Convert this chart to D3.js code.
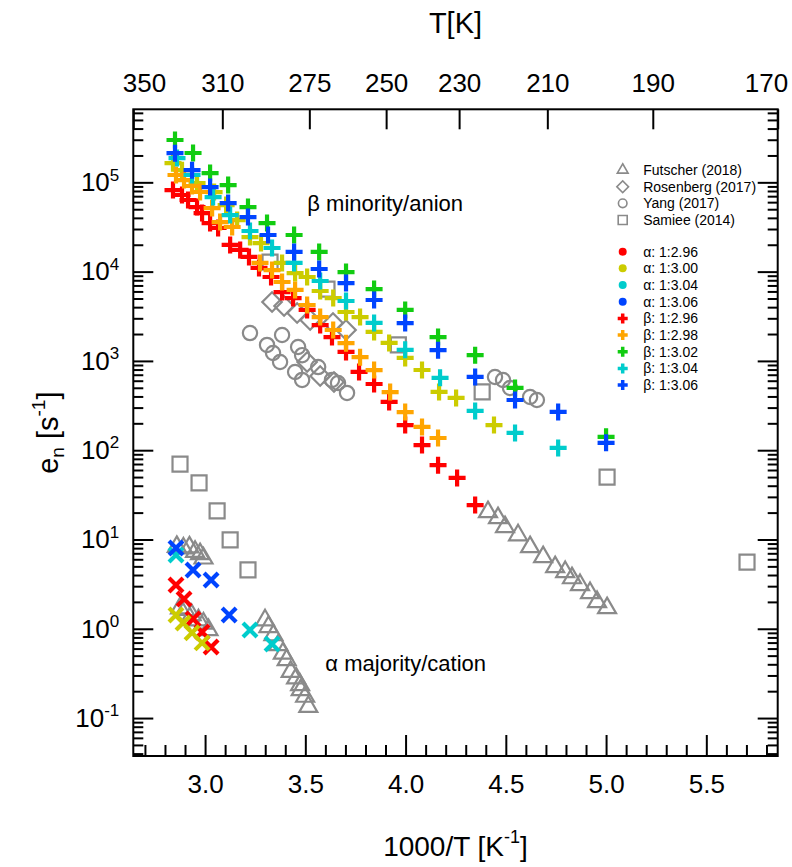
<!DOCTYPE html>
<html>
<head>
<meta charset="utf-8">
<script src="https://cdn.jsdelivr.net/npm/d3@7"></script>
<style>
body { margin: 0; background: #fff; }
svg { font-family: "Liberation Sans", Arial, sans-serif; }
</style>
</head>
<body>
<script>
// beta (minority / anion) traps, [1000/T, e_n]
var betaRed296 = [[2.840, 82000], [2.885, 72100], [2.915, 63400], [2.960, 52900], [2.985, 45300], [3.025, 35000], [3.065, 30800], [3.125, 19900], [3.175, 17500], [3.219, 14600], [3.269, 11000], [3.329, 8700], [3.384, 5900], [3.439, 5060], [3.509, 3720], [3.574, 2520], [3.633, 1850], [3.703, 1260], [3.768, 752], [3.843, 551], [3.918, 347], [3.998, 191], [4.082, 114], [4.162, 68], [4.257, 48.9], [4.347, 24.3]];
var betaOrange298 = [[2.855, 120800], [2.895, 106000], [2.935, 91000], [2.975, 77900], [3.035, 51500], [3.075, 35900], [3.135, 31600], [3.274, 12500], [3.334, 10400], [3.384, 7650], [3.449, 6230], [3.509, 4230], [3.574, 3100], [3.639, 2220], [3.703, 1580], [3.773, 1100], [3.843, 790], [3.923, 448], [3.998, 267], [4.082, 182], [4.162, 137]];
var betaYellow300 = [[2.840, 164000], [2.885, 137000], [2.960, 98000], [3.045, 77800], [3.105, 55700], [3.160, 37800], [3.224, 24400], [3.279, 20900], [3.384, 12500], [3.449, 9640], [3.509, 8700], [3.574, 6070], [3.639, 5060], [3.703, 3530], [3.773, 3100], [3.843, 2110], [3.918, 1590], [3.998, 1080], [4.082, 791], [4.167, 449], [4.252, 385], [4.441, 191]];
var betaGreen302 = [[2.850, 298000], [2.940, 213000], [3.025, 127000], [3.115, 93300], [3.214, 52900], [3.309, 35000], [3.444, 25700], [3.569, 16600], [3.703, 9890], [3.843, 6380], [3.998, 3720], [4.162, 1850], [4.347, 1160], [4.546, 498], [5.000, 141]];
var betaCyan304 = [[2.860, 187000], [2.935, 120800], [3.040, 68400], [3.125, 43000], [3.224, 28500], [3.334, 18400], [3.444, 12500], [3.574, 7850], [3.703, 4690], [3.843, 2660], [3.998, 1330], [4.172, 646], [4.347, 275], [4.546, 156], [4.761, 106]];
var betaBlue306 = [[2.850, 212000], [2.935, 137000], [3.025, 88500], [3.115, 58600], [3.214, 40800], [3.314, 25700], [3.444, 16600], [3.569, 10700], [3.703, 7450], [3.843, 4810], [3.998, 2650], [4.162, 1320], [4.347, 661], [4.546, 365], [4.761, 268], [5.000, 121]];

// alpha (majority / cation) traps
var alphaRed296 = [[2.855, 3.10], [2.895, 2.15], [2.940, 1.29], [2.985, 0.92], [3.030, 0.625]];
var alphaYellow300 = [[2.855, 1.43], [2.890, 1.16], [2.935, 0.90], [2.985, 0.695]];
var alphaCyan304 = [[2.855, 6.71], [3.224, 0.97], [3.334, 0.676]];
var alphaBlue306 = [[2.855, 8.03], [2.940, 4.55], [3.030, 3.52], [3.120, 1.43]];

// literature
var futscher = [[2.859, 8.3], [2.892, 7.96], [2.922, 8.18], [2.950, 7.3], [2.975, 6.88], [2.992, 6.15],
    [2.875, 1.70], [2.900, 1.63], [2.933, 1.43], [2.967, 1.25], [2.992, 1.15], [3.017, 0.97],
    [3.299, 1.25], [3.316, 1.05], [3.341, 0.85], [3.366, 0.66], [3.388, 0.53], [3.407, 0.448], [3.427, 0.331], [3.454, 0.279], [3.474, 0.235], [3.477, 0.206], [3.499, 0.174], [3.515, 0.134],
    [4.411, 20.3], [4.461, 17.4], [4.496, 13.8], [4.561, 11.2], [4.621, 8.24], [4.686, 6.37], [4.746, 4.92], [4.796, 4.33], [4.830, 3.70], [4.870, 3.10], [4.920, 2.52], [4.955, 2.00], [5.005, 1.71]];
var rosenberg = [[3.334, 4570], [3.394, 4120], [3.459, 3440], [3.524, 2870], [3.638, 2660], [3.703, 2220], [3.509, 973], [3.574, 678], [3.643, 581]];
var yang = [[3.224, 2050], [3.384, 1950], [3.309, 1510], [3.464, 1430], [3.339, 1225], [3.484, 1160], [3.374, 973], [3.449, 752], [3.564, 853], [3.484, 612], [3.633, 612], [3.663, 566], [3.708, 438],
    [4.446, 661], [4.486, 611], [4.521, 497], [4.621, 394], [4.655, 365]];
var samiee = [[2.875, 70], [2.970, 43], [3.060, 20.9], [3.125, 9.9], [3.214, 4.56], [3.324, 12800], [3.608, 6380], [3.964, 1510], [4.382, 449], [5.005, 50], [5.703, 5.58]];

var xMajor = [3.0, 3.5, 4.0, 4.5, 5.0, 5.5];
var yMajor = [0.1, 1, 10, 100, 1000, 10000, 100000];
var yExponents = ["-1", "0", "1", "2", "3", "4", "5"];
var topTickLabels = ["350", "310", "275", "250", "230", "210", "190", "170"];
var topTickPos = [2.642, 3.086, 3.520, 3.903, 4.267, 4.707, 5.233, 5.856]; // where the labels sit on the 1000/T axis

var gray = "#8a8a8a";
var colors = {red: "#ff0000", orange: "#ffa500", yellow: "#cccc00", green: "#11cc11", cyan: "#00cccc", blue: "#0044ff"};

var litSeries = [
    {name: "Futscher (2018)", data: futscher, shape: "triangle"},
    {name: "Rosenberg (2017)", data: rosenberg, shape: "diamond"},
    {name: "Yang (2017)", data: yang, shape: "circle"},
    {name: "Samiee (2014)", data: samiee, shape: "square"}
];
var ownSeries = [
    {name: "α: 1:2.96", data: alphaRed296, kind: "alpha", color: colors.red, legend: true},
    {name: "α: 1:3.00", data: alphaYellow300, kind: "alpha", color: colors.yellow, legend: true},
    {name: "α: 1:3.04", data: alphaCyan304, kind: "alpha", color: colors.cyan, legend: true},
    {name: "α: 1:3.06", data: alphaBlue306, kind: "alpha", color: colors.blue, legend: true},
    {name: "β: 1:3.00", data: betaYellow300, kind: "beta", color: colors.yellow, legend: false},
    {name: "β: 1:2.96", data: betaRed296, kind: "beta", color: colors.red, legend: true},
    {name: "β: 1:2.98", data: betaOrange298, kind: "beta", color: colors.orange, legend: true},
    {name: "β: 1:3.02", data: betaGreen302, kind: "beta", color: colors.green, legend: true},
    {name: "β: 1:3.04", data: betaCyan304, kind: "beta", color: colors.cyan, legend: true},
    {name: "β: 1:3.06", data: betaBlue306, kind: "beta", color: colors.blue, legend: true}
];

var margin = {left: 133.3, top: 109.3};
var width = 644.4;
var height = 646.7;

var x = d3.scaleLinear().domain([2.642, 5.856]).range([0, width]);
var y = d3.scaleLog().domain([Math.pow(10, -1.425), Math.pow(10, 5.818)]).range([height, 0]);

var svg = d3.select("body").append("svg").attr("width", 792).attr("height", 867);
var g = svg.append("g").attr("transform", "translate(" + margin.left + "," + margin.top + ")");

function symbolPath(shape, s) {
    if (shape === "triangle") return d3.symbol(d3.symbolTriangle, 140 * s * s)();
    if (shape === "circle") return d3.symbol(d3.symbolCircle, 160 * s * s)();
    if (shape === "square") return d3.symbol(d3.symbolSquare, 225 * s * s)();
    if (shape === "diamond") return d3.symbol(d3.symbolSquare, 190 * s * s)();
}

// literature points, open gray
litSeries.slice().reverse().forEach(function (s) {
    g.append("g").selectAll("path").data(s.data).enter().append("path")
        .attr("d", symbolPath(s.shape, 1))
        .attr("transform", function (d) {
            return "translate(" + x(d[0]) + "," + y(d[1]) + ")" + (s.shape === "diamond" ? " rotate(45)" : "");
        })
        .attr("fill", "none").attr("stroke", gray).attr("stroke-width", 2.2);
});

// own data: x for alpha, + for beta
var plusPath = "M-8.5,0H8.5M0,-8.5V8.5";
var crossPath = "M-7,-7L7,7M-7,7L7,-7";
ownSeries.forEach(function (s) {
    g.append("g").selectAll("path").data(s.data).enter().append("path")
        .attr("d", s.kind === "beta" ? plusPath : crossPath)
        .attr("transform", function (d) { return "translate(" + x(d[0]) + "," + y(d[1]) + ")"; })
        .attr("fill", "none").attr("stroke", s.color).attr("stroke-width", 4.2);
});

// axes
var xMinor = d3.range(27, 59).map(function (d) { return d / 10; }).filter(function (v) { return xMajor.indexOf(v) < 0; });
var yMinor = y.ticks().filter(function (v) {
    var l = Math.log10(v);
    return Math.abs(l - Math.round(l)) > 1e-6;
});

function styleAxis(sel, fontSize) {
    sel.select(".domain").remove();
    sel.selectAll("line").attr("stroke", "#000").attr("stroke-width", 2);
    sel.attr("font-family", null).attr("font-size", fontSize).selectAll("text").attr("fill", "#000");
}

var bottom = g.append("g").attr("transform", "translate(0," + height + ")");
bottom.append("g").call(d3.axisBottom(x).tickValues(xMinor).tickFormat("").tickSizeInner(-11).tickSizeOuter(0)).call(styleAxis, 26);
bottom.append("g").call(d3.axisBottom(x).tickValues(xMajor).tickFormat(d3.format(".1f")).tickSizeInner(-21).tickSizeOuter(0).tickPadding(18.5)).call(styleAxis, 26);

var topAxis = g.append("g").call(d3.axisTop(x).tickValues(topTickPos).tickFormat(function (d, i) { return topTickLabels[i]; })
    .tickSizeInner(-20).tickSizeOuter(0).tickPadding(17)).call(styleAxis, 26);
// the end labels sit inside the frame corners
topAxis.selectAll("text").filter(function (d, i) { return i === 0; }).attr("text-anchor", "start").attr("x", -11);
topAxis.selectAll("text").filter(function (d, i) { return i === topTickPos.length - 1; }).attr("text-anchor", "end").attr("x", 10);

var left = g.append("g");
left.append("g").call(d3.axisLeft(y).tickValues(yMinor).tickFormat("").tickSizeInner(-10).tickSizeOuter(0)).call(styleAxis, 26);
var leftMajor = left.append("g").call(d3.axisLeft(y).tickValues(yMajor).tickFormat(function () { return "10"; })
    .tickSizeInner(-20).tickSizeOuter(0).tickPadding(14)).call(styleAxis, 26);
leftMajor.selectAll("text").each(function (d, i) {
    d3.select(this).append("tspan").attr("dy", "-0.62em").attr("font-size", 17).text(yExponents[i]);
});

var right = g.append("g").attr("transform", "translate(" + width + ",0)");
right.append("g").call(d3.axisRight(y).tickValues(yMinor).tickFormat("").tickSizeInner(-10).tickSizeOuter(0)).call(styleAxis, 26);
right.append("g").call(d3.axisRight(y).tickValues(yMajor).tickFormat("").tickSizeInner(-20).tickSizeOuter(0)).call(styleAxis, 26);

g.append("rect").attr("width", width).attr("height", height)
    .attr("fill", "none").attr("stroke", "#000").attr("stroke-width", 2);

// axis titles
var title1 = svg.append("text").attr("x", margin.left + width / 2).attr("y", 856)
    .attr("text-anchor", "middle").attr("font-size", 28).text("1000/T [K");
title1.append("tspan").attr("dy", "-0.7em").attr("font-size", 18).text("-1");
title1.append("tspan").attr("dy", "0.45em").text("]");

svg.append("text").attr("x", margin.left + width / 2).attr("y", 33)
    .attr("text-anchor", "middle").attr("font-size", 29).text("T[K]");

var title2 = svg.append("text").attr("transform", "translate(58," + (margin.top + height / 2) + ") rotate(-90)")
    .attr("text-anchor", "middle").attr("font-size", 29).text("e");
title2.append("tspan").attr("dy", "0.3em").attr("font-size", 19).text("n");
title2.append("tspan").attr("dy", "-0.2em").text(" [s");
title2.append("tspan").attr("dy", "-0.7em").attr("font-size", 19).text("-1");
title2.append("tspan").attr("dy", "0.45em").text("]");

// annotations
g.append("text").attr("x", x(3.51)).attr("y", y(48000)).attr("font-size", 22).text("β minority/anion");
g.append("text").attr("x", x(3.60)).attr("y", y(0.34)).attr("font-size", 22).text("α majority/cation");

// legend
var legend = svg.append("g").attr("transform", "translate(622.7,170)");
var rowH = 16.67;
litSeries.forEach(function (s, i) {
    var row = legend.append("g").attr("transform", "translate(0," + i * rowH + ")");
    row.append("path").attr("d", symbolPath(s.shape, 0.6))
        .attr("transform", s.shape === "diamond" ? "rotate(45)" : null)
        .attr("fill", "none").attr("stroke", gray).attr("stroke-width", 1.6);
    row.append("text").attr("x", 20.5).attr("y", 5).attr("font-size", 14).text(s.name);
});
ownSeries.filter(function (s) { return s.legend; }).forEach(function (s, i) {
    var row = legend.append("g").attr("transform", "translate(0," + (81.7 + i * rowH) + ")");
    if (s.kind === "alpha") {
        row.append("circle").attr("r", 4).attr("fill", s.color);
    } else {
        row.append("path").attr("d", "M-5,0H5M0,-5V5").attr("stroke", s.color).attr("stroke-width", 3.5);
    }
    row.append("text").attr("x", 20.5).attr("y", 5).attr("font-size", 14).text(s.name);
});
</script>
</body>
</html>
